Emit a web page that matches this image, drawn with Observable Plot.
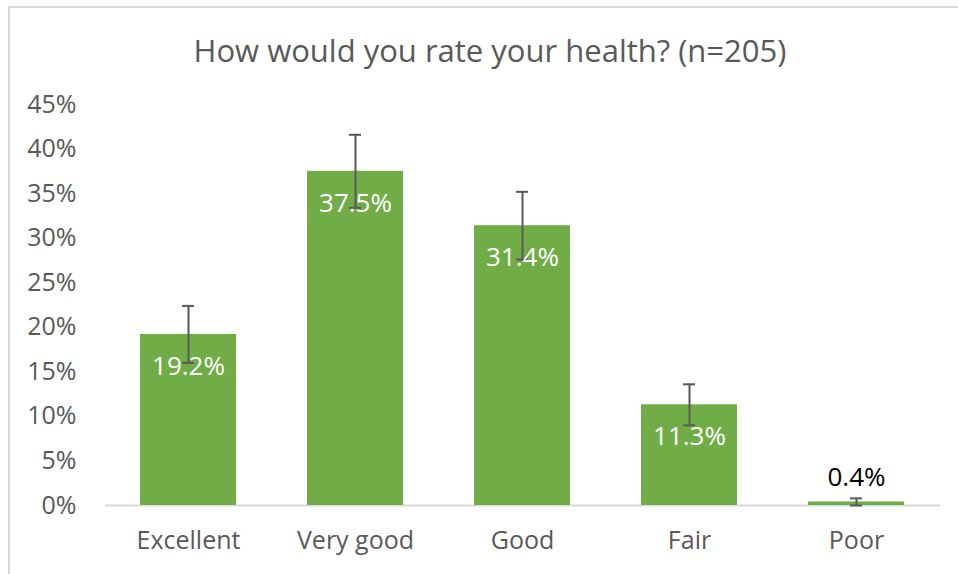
<!DOCTYPE html>
<html>
<head>
<meta charset="utf-8">
<script src="https://cdn.jsdelivr.net/npm/d3@7"></script>
<script src="https://cdn.jsdelivr.net/npm/@observablehq/plot@0.6"></script>
<style>
  html, body { margin: 0; padding: 0; background: #fff; }
  #wrap { position: relative; width: 958px; height: 574px; overflow: hidden; font-family: "Open Sans", sans-serif; }
  #border { position: absolute; left: 8px; top: 6px; width: 1000px; height: 1000px; border-left: 2px solid #d9d9d9; border-top: 2px solid #d9d9d9; box-sizing: border-box; }
  #title { position: absolute; left: 0; top: 29px; width: 980px; text-align: center; font-size: 31px; color: #595959; line-height: 42px; }
  #chart { position: absolute; left: 0; top: 0; }
</style>
</head>
<body>
<div id="wrap">
  <div id="border"></div>
  <div id="title">How would you rate your health? (n=205)</div>
  <div id="chart"></div>
</div>
<script>
const categories = ["Excellent", "Very good", "Good", "Fair", "Poor"];
const values = [19.2, 37.5, 31.4, 11.3, 0.4];
const errors = [3.2, 4.1, 3.8, 2.3, 0.4];
const yTicks = [0, 5, 10, 15, 20, 25, 30, 35, 40, 45];

const data = categories.map((c, i) => ({
  category: c,
  value: values[i],
  lo: values[i] - errors[i],
  hi: values[i] + errors[i],
  label: values[i].toFixed(1) + "%"
}));

const big = data.filter(d => d.value >= 5);
const small = data.filter(d => d.value < 5);

const chart = Plot.plot({
  width: 958,
  height: 574,
  marginTop: 104,
  marginBottom: 69,
  marginLeft: 105,
  marginRight: 18,
  style: { fontFamily: "Open Sans, sans-serif", background: "transparent", overflow: "visible" },
  x: {
    domain: categories,
    paddingInner: 0.425,
    paddingOuter: 0.2125,
    label: null,
    tickSize: 0,
    tickPadding: 26
  },
  y: {
    domain: [0, 45],
    ticks: yTicks,
    tickFormat: d => d + "%",
    label: null,
    tickSize: 0,
    tickPadding: 29
  },
  marks: [
    Plot.ruleY([0], { stroke: "#d9d9d9", strokeWidth: 2 }),
    Plot.barY(data, { x: "category", y: "value", fill: "#70ad47" }),
    Plot.ruleX(data, { x: "category", y1: "lo", y2: "hi", stroke: "#595959", strokeWidth: 2 }),
    Plot.tickY(data, { x: "category", y: "lo", stroke: "#595959", strokeWidth: 2, insetLeft: 42, insetRight: 42 }),
    Plot.tickY(data, { x: "category", y: "hi", stroke: "#595959", strokeWidth: 2, insetLeft: 42, insetRight: 42 }),
    Plot.text(big, { x: "category", y: "value", text: "label", dy: 32, fill: "#ffffff", fontSize: 26, lineAnchor: "middle" }),
    Plot.text(small, { x: "category", y: "value", text: "label", dy: -24, fill: "#000000", fontSize: 26, lineAnchor: "middle" })
  ]
});

chart.querySelectorAll('[aria-label="x-axis tick label"], [aria-label="y-axis tick label"]').forEach(g => {
  g.setAttribute("font-size", 25);
  g.setAttribute("fill", "#595959");
  g.style.fontSize = "25px";
  g.style.color = "#595959";
});

document.getElementById("chart").appendChild(chart);
</script>
</body>
</html>
